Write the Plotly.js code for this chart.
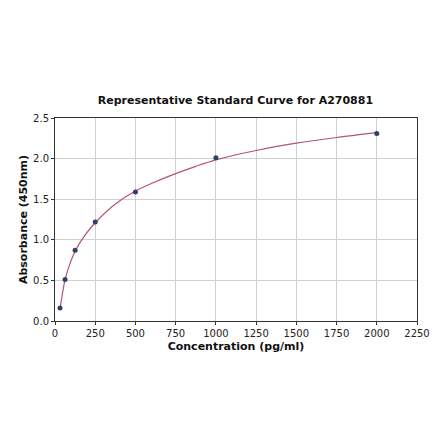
<!DOCTYPE html>
<html>
<head>
<meta charset="utf-8">
<script src="https://cdn.plot.ly/plotly-3.0.1.min.js"></script>
<style>
  html, body { margin: 0; padding: 0; background: #fff; }
  #chart { width: 440px; height: 441px; }
</style>
</head>
<body>
<div id="chart"></div>
<script>
// standard points
var concX = [31.25, 62.5, 125, 250, 500, 1000, 2000];
var absY = [0.16, 0.51, 0.87, 1.22, 1.59, 2.01, 2.31];

// fitted curve
var curveX = [31.25, 62.5, 93.75, 125, 187.5, 250, 375, 500, 625, 750, 875, 1000, 1250, 1500, 1750, 2000];
var curveY = [0.15, 0.51, 0.71, 0.86, 1.06, 1.21, 1.44, 1.60, 1.715, 1.815, 1.905, 1.985, 2.10, 2.19, 2.26, 2.32];

var xTicks = [0, 250, 500, 750, 1000, 1250, 1500, 1750, 2000, 2250];
var yTicks = [0.0, 0.5, 1.0, 1.5, 2.0, 2.5];

var fnt = 'DejaVu Sans, sans-serif';

var curve = {
  x: curveX,
  y: curveY,
  type: 'scatter',
  mode: 'lines',
  line: { color: '#b5546f', width: 1.2, shape: 'spline', smoothing: 0.8 },
  hoverinfo: 'skip'
};

var points = {
  x: concX,
  y: absY,
  type: 'scatter',
  mode: 'markers',
  marker: { color: '#2f3f6b', size: 5 }
};

var axisCommon = {
  showline: true,
  linecolor: '#333',
  linewidth: 1,
  mirror: true,
  ticks: 'outside',
  ticklen: 3,
  tickcolor: '#333',
  showgrid: true,
  gridcolor: '#d0d0d0',
  gridwidth: 1,
  zeroline: false,
  tickfont: { family: fnt, size: 10, color: '#222' }
};

var layout = {
  width: 440,
  height: 441,
  margin: { l: 55, r: 23, t: 118, b: 120 },
  paper_bgcolor: '#fff',
  plot_bgcolor: '#fff',
  showlegend: false,
  title: {
    text: '<b>Representative Standard Curve for A270881</b>',
    font: { family: fnt, size: 11, color: '#111' },
    x: 0.535, xanchor: 'center',
    y: 0.773, yanchor: 'middle'
  },
  xaxis: Object.assign({}, axisCommon, {
    range: [0, 2250],
    tickvals: xTicks,
    ticktext: xTicks.map(String),
    title: { text: '<b>Concentration (pg/ml)</b>', font: { family: fnt, size: 11, color: '#111' }, standoff: 4 }
  }),
  yaxis: Object.assign({}, axisCommon, {
    range: [0, 2.5],
    tickvals: yTicks,
    ticktext: yTicks.map(function (v) { return v.toFixed(1); }),
    title: { text: '<b>Absorbance (450nm)</b>', font: { family: fnt, size: 11, color: '#111' }, standoff: 3 }
  })
};

Plotly.newPlot('chart', [curve, points], layout, { displayModeBar: false, staticPlot: true });
</script>
</body>
</html>
